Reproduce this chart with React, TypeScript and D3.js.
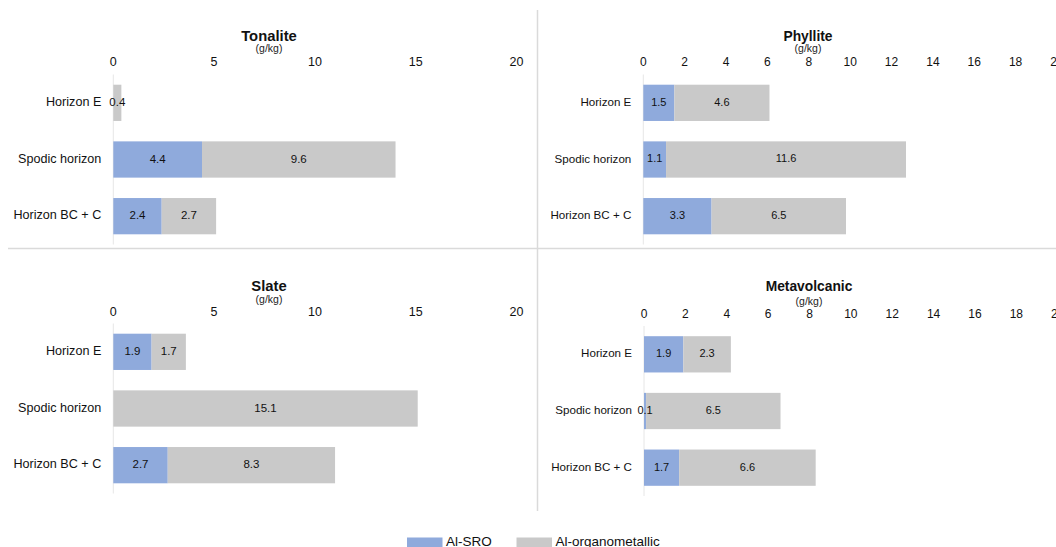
import React from "react";
import * as d3 from "d3";

// Horizons shown on every panel (top to bottom)
const horizons = ["Horizon E", "Spodic horizon", "Horizon BC + C"];

// Aluminium fractions in g/kg, per parent material
const tonaliteSRO = [0, 4.4, 2.4];
const tonaliteOrg = [0.4, 9.6, 2.7];
const phylliteSRO = [1.5, 1.1, 3.3];
const phylliteOrg = [4.6, 11.6, 6.5];
const slateSRO = [1.9, 0, 2.7];
const slateOrg = [1.7, 15.1, 8.3];
const metavolcanicSRO = [1.9, 0.1, 1.7];
const metavolcanicOrg = [2.3, 6.5, 6.6];

// Axis tick values
const ticksBy5 = [0, 5, 10, 15, 20];
const ticksBy2 = [0, 2, 4, 6, 8, 10, 12, 14, 16, 18, 20];

const seriesNames = ["Al-SRO", "Al-organometallic"];
const colors = ["#8FAADC", "#C9C9C9"];

const FONT = "'Liberation Sans', Arial, Helvetica, sans-serif";

type PanelProps = {
  title: string;
  sro: number[];
  org: number[];
  ticks: number[];
  x0: number;
  x1: number;
  cx: number;
  titleY: number;
  unitY: number;
  tickY: number;
  bandTop: number;
  fs: { title: number; tick: number; cat: number; value: number };
};

function Panel(p: PanelProps) {
  const x = d3.scaleLinear().domain([0, 20]).range([p.x0, p.x1]);
  const y = d3
    .scaleBand<string>()
    .domain(horizons)
    .range([p.bandTop, p.bandTop + 170])
    .paddingInner(0.36)
    .paddingOuter(0.18);
  const bw = y.bandwidth();
  return (
    <g fontFamily={FONT}>
      <text x={p.cx} y={p.titleY} textAnchor="middle" fontSize={p.fs.title} fontWeight="bold" fill="#111" dominantBaseline="middle">
        {p.title}
      </text>
      <text x={p.cx} y={p.unitY} textAnchor="middle" fontSize={10.5} fill="#222" dominantBaseline="middle">
        (g/kg)
      </text>
      {p.ticks.map((t) => (
        <text key={t} x={x(t)} y={p.tickY} textAnchor="middle" fontSize={p.fs.tick} fill="#111" dominantBaseline="middle">
          {t}
        </text>
      ))}
      <line x1={x(0)} x2={x(0)} y1={p.bandTop} y2={p.bandTop + 170} stroke="#E6E6E6" strokeWidth={1} />
      {horizons.map((h, i) => {
        const yy = y(h)!;
        const values = [p.sro[i], p.org[i]];
        const starts = [0, values[0]];
        return (
          <g key={h}>
            <text x={x(0) - 12} y={yy + bw / 2} textAnchor="end" fontSize={p.fs.cat} fill="#111" dominantBaseline="middle">
              {h}
            </text>
            {values.map((v, k) =>
              v > 0 ? (
                <rect key={k} x={x(starts[k])} y={yy} width={x(starts[k] + v) - x(starts[k])} height={bw} fill={colors[k]} />
              ) : null
            )}
            {values.map((v, k) =>
              v > 0 ? (
                <text key={"l" + k} x={x(starts[k] + v / 2)} y={yy + bw / 2} textAnchor="middle" fontSize={p.fs.value} fill="#111" dominantBaseline="middle">
                  {v.toFixed(1)}
                </text>
              ) : null
            )}
          </g>
        );
      })}
    </g>
  );
}

const leftFs = { title: 14.8, tick: 12.5, cat: 12.6, value: 11.5 };
const rightFs = { title: 13.8, tick: 12, cat: 11.6, value: 11 };

export default function App() {
  return (
    <div style={{ position: "absolute", left: 0, top: 0 }}>
      <svg width={1056} height={547} style={{ display: "block", background: "#fff" }}>
        <line x1={8} x2={1056} y1={248.5} y2={248.5} stroke="#DADADA" strokeWidth={1.5} />
        <line x1={537.5} x2={537.5} y1={10} y2={511} stroke="#DADADA" strokeWidth={1.5} />
        <Panel title="Tonalite" sro={tonaliteSRO} org={tonaliteOrg} ticks={ticksBy5} x0={113.3} x1={516.5} cx={269} titleY={37} unitY={49.5} tickY={62.5} bandTop={74.5} fs={leftFs} />
        <Panel title="Phyllite" sro={phylliteSRO} org={phylliteOrg} ticks={ticksBy2} x0={643.3} x1={1057} cx={808} titleY={37} unitY={49.5} tickY={62.5} bandTop={74.5} fs={rightFs} />
        <Panel title="Slate" sro={slateSRO} org={slateOrg} ticks={ticksBy5} x0={113.3} x1={516.5} cx={269} titleY={287} unitY={300} tickY={312.5} bandTop={323.5} fs={leftFs} />
        <Panel title="Metavolcanic" sro={metavolcanicSRO} org={metavolcanicOrg} ticks={ticksBy2} x0={644} x1={1057.7} cx={809} titleY={287.5} unitY={302.5} tickY={315} bandTop={326} fs={rightFs} />
        <g fontFamily={FONT}>
          {seriesNames.map((name, i) => {
            const lx = i === 0 ? 407 : 516.5;
            return (
              <g key={name}>
                <rect x={lx} y={537.5} width={35.5} height={11} fill={colors[i]} />
                <text x={lx + 39} y={546} fontSize={13.5} fill="#111">
                  {name}
                </text>
              </g>
            );
          })}
        </g>
      </svg>
    </div>
  );
}
